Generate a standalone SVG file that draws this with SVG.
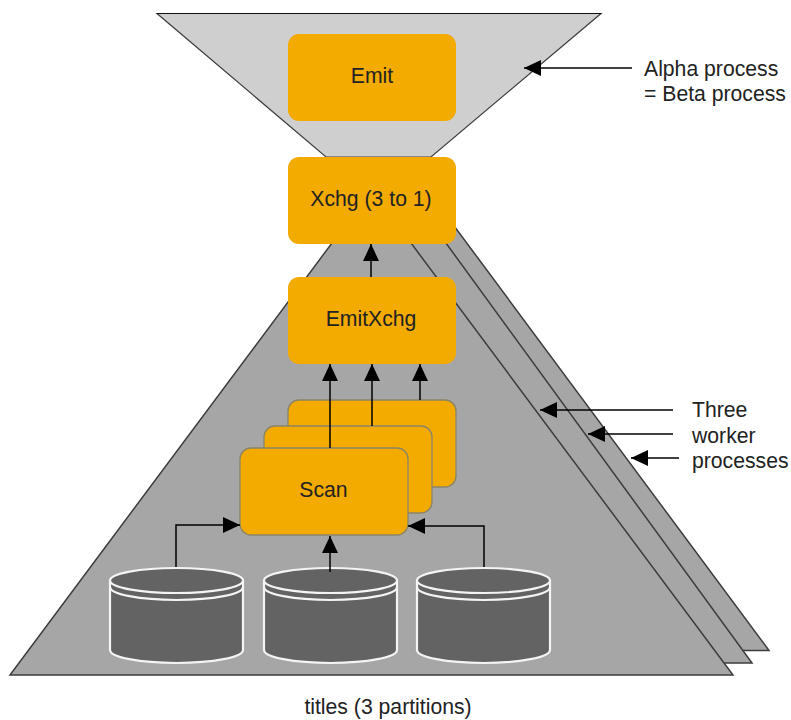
<svg xmlns="http://www.w3.org/2000/svg" width="791" height="720" viewBox="0 0 791 720">
<style>
text{font-family:"Liberation Sans",Arial,sans-serif;font-size:21.200px;fill:#222}
.c{text-anchor:middle}
.tri{fill:#a6a6a6;stroke:#3c3c3c;stroke-width:1.500}
.box{fill:#f3ab00}
.sb{stroke:#8a8468;stroke-width:1.300}
.ln{fill:none;stroke:#000;stroke-width:1.500}
.cyl{fill:#636363;stroke:#f4f4f4;stroke-width:2.200}
.arc{fill:none;stroke:#f4f4f4;stroke-width:2.200}
</style>
<defs>
<marker id="ah" markerUnits="userSpaceOnUse" markerWidth="18" markerHeight="18" refX="17" refY="9" orient="auto"><path d="M0 1L17 9L0 17Z" fill="#000"/></marker>
</defs>
<g id="alpha-funnel"><path d="M157 13.500H601L431 157H326Z" fill="#cfcfcf" stroke="#3c3c3c" stroke-width="1.200"/><path d="M157 13.500H601" fill="none" stroke="#111" stroke-width="1.200"/></g>
<g id="worker-3"><path d="M420 180L769 650.500H700L400 240Z" class="tri"/></g>
<g id="worker-2"><path d="M400 180L752 663H680L380 240Z" class="tri"/></g>
<g id="worker-1"><path d="M371.500 190L733 675H10Z" class="tri"/></g>
<g id="emit"><rect x="288" y="34" width="168" height="87" rx="11" class="box"/><text x="372" y="83" class="c">Emit</text></g>
<g id="xchg"><rect x="288" y="157" width="168" height="87" rx="11" class="box"/><text x="371" y="206" class="c">Xchg (3 to 1)</text></g>
<g id="emitxchg"><rect x="288" y="277" width="168" height="87" rx="11" class="box"/><text x="371" y="326" class="c">EmitXchg</text></g>
<g id="scan-3"><rect x="288" y="400" width="168" height="87" rx="11" class="box sb"/></g>
<g id="scan-2"><rect x="264" y="426" width="168" height="87" rx="11" class="box sb"/></g>
<g id="scan-1"><rect x="240" y="448" width="168" height="87" rx="11" class="box sb"/><text x="323.500" y="497" class="c">Scan</text></g>
<g id="db-1"><path d="M110 580V650A66.500 13 0 0 0 243 650V580" class="cyl"/><ellipse cx="176.500" cy="580.500" rx="66.500" ry="12.500" class="cyl"/><path d="M110 587A66.500 13 0 0 0 243 587" class="arc"/></g>
<g id="db-2"><path d="M264 580V650A66.500 13 0 0 0 397 650V580" class="cyl"/><ellipse cx="330.500" cy="580.500" rx="66.500" ry="12.500" class="cyl"/><path d="M264 587A66.500 13 0 0 0 397 587" class="arc"/></g>
<g id="db-3"><path d="M417 580V650A66.500 13 0 0 0 550 650V580" class="cyl"/><ellipse cx="483.500" cy="580.500" rx="66.500" ry="12.500" class="cyl"/><path d="M417 587A66.500 13 0 0 0 550 587" class="arc"/></g>
<g id="connectors">
<path d="M371 277V244" class="ln" marker-end="url(#ah)"/>
<path d="M330 448V364" class="ln" marker-end="url(#ah)"/>
<path d="M372 426V364" class="ln" marker-end="url(#ah)"/>
<path d="M420 400V364" class="ln" marker-end="url(#ah)"/>
<path d="M176 567V525H240" class="ln" marker-end="url(#ah)"/>
<path d="M330 572V536" class="ln" marker-end="url(#ah)"/>
<path d="M484 567V526H408" class="ln" marker-end="url(#ah)"/>
<path d="M632 68H524" class="ln" marker-end="url(#ah)"/>
<path d="M673 410H540" class="ln" marker-end="url(#ah)"/>
<path d="M673 434H588" class="ln" marker-end="url(#ah)"/>
<path d="M679 458H631" class="ln" marker-end="url(#ah)"/>
</g>
<g id="labels">
<text x="644" y="75.500">Alpha process</text>
<text x="644" y="100.500">= Beta process</text>
<text x="692" y="417">Three</text>
<text x="692" y="443">worker</text>
<text x="692" y="468">processes</text>
<text x="388" y="714" class="c">titles (3 partitions)</text>
</g>
</svg>
